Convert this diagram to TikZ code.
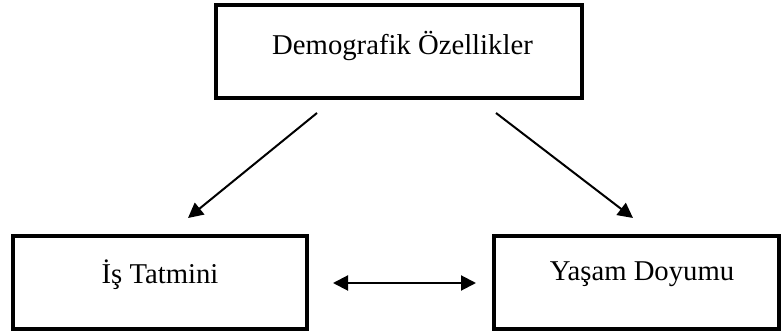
\documentclass[tikz,border=0pt]{standalone}
\usepackage{fontspec}
\setmainfont{Liberation Serif}
\usetikzlibrary{arrows.meta}
\begin{document}
\begin{tikzpicture}[x=1pt,y=-1pt,
  box/.style={draw=black, line width=3.6pt, rectangle, inner sep=0pt},
  label/.style={anchor=base, inner sep=0pt, font=\fontsize{28.7}{34}\selectfont},
  conn/.style={line width=2pt, -{Triangle[length=15pt,width=15pt]}},
  biconn/.style={line width=2pt, {Triangle[length=15pt,width=15pt]}-{Triangle[length=15pt,width=15pt]}}]
  \useasboundingbox (0,0) rectangle (782,336);

  % the three boxes
  \node[box, minimum width=366.4pt, minimum height=93.4pt] (demo) at (399,51.5) {};
  \node[box, minimum width=294.4pt, minimum height=93.4pt] (is) at (160,282.5) {};
  \node[box, minimum width=285.4pt, minimum height=93.4pt] (yasam) at (636.5,282.5) {};

  % their captions
  \node[label] (demotxt) at (402.5,55) {Demografik Özellikler};
  \node[label] (istxt) at (160,284) {İş Tatmini};
  \node[label] (yasamtxt) at (642,281) {Yaşam Doyumu};

  % free ends of the arrows, clear of the boxes
  \coordinate (d1s) at (317,113);
  \coordinate (d1e) at (188,218);
  \coordinate (d2s) at (496,113);
  \coordinate (d2e) at (633,218);
  \coordinate (h1) at (333,283);
  \coordinate (h2) at (476,283);

  \draw[conn] (d1s) -- (d1e);
  \draw[conn] (d2s) -- (d2e);
  \draw[biconn] (h1) -- (h2);
\end{tikzpicture}
\end{document}
